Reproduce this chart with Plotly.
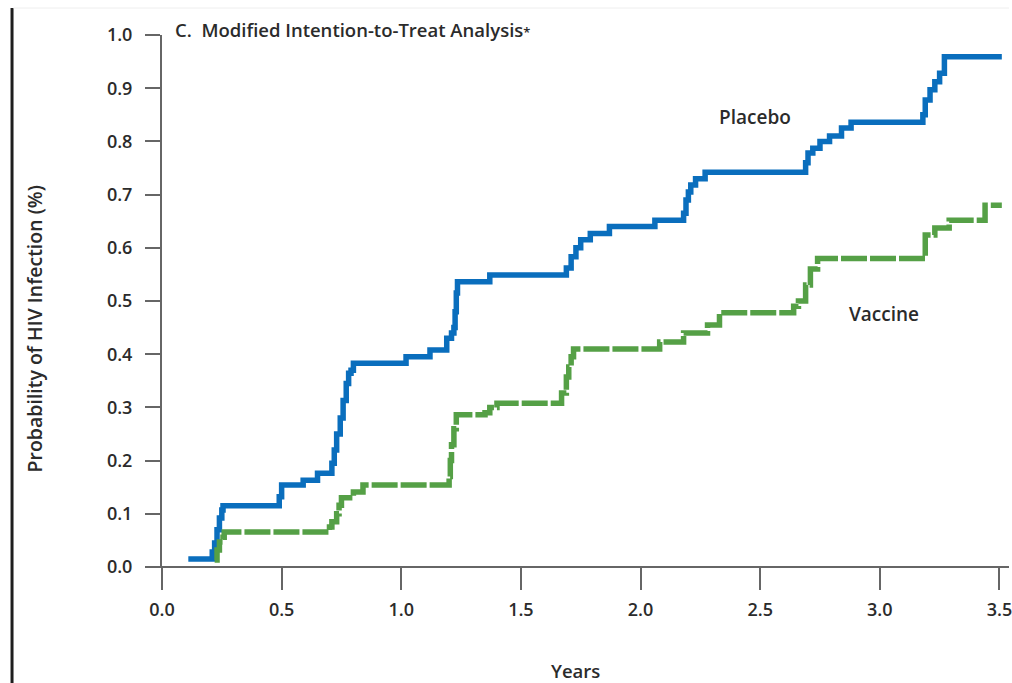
import plotly.graph_objects as go

# Kaplan-Meier style step data (time in years, cumulative probability)
placebo_t = [0.11, 0.21, 0.22, 0.23, 0.24, 0.25, 0.255, 0.49, 0.50, 0.59, 0.65, 0.71, 0.72, 0.73,
             0.745, 0.757, 0.77, 0.78, 0.79, 0.80, 1.02, 1.12, 1.19, 1.21, 1.22, 1.225, 1.23, 1.235,
             1.37, 1.69, 1.71, 1.73, 1.75, 1.79, 1.87, 2.06, 2.18, 2.19, 2.20, 2.21, 2.23, 2.27,
             2.69, 2.70, 2.72, 2.75, 2.79, 2.84, 2.88, 3.18, 3.19, 3.21, 3.23, 3.25, 3.27, 3.51]
placebo_v = [0.015, 0.028, 0.045, 0.07, 0.092, 0.107, 0.115, 0.132, 0.154, 0.163, 0.176, 0.195, 0.22, 0.25,
             0.28, 0.313, 0.345, 0.364, 0.37, 0.383, 0.395, 0.408, 0.43, 0.44, 0.45, 0.48, 0.515, 0.536,
             0.549, 0.562, 0.583, 0.60, 0.615, 0.627, 0.64, 0.652, 0.665, 0.69, 0.705, 0.718, 0.73, 0.742,
             0.76, 0.778, 0.787, 0.80, 0.81, 0.825, 0.836, 0.85, 0.878, 0.897, 0.912, 0.928, 0.959, 0.959]

vaccine_t = [0.22, 0.23, 0.24, 0.255, 0.26, 0.70, 0.71, 0.73, 0.74, 0.75, 0.80, 0.84, 1.20, 1.205,
             1.21, 1.22, 1.23, 1.35, 1.37, 1.40, 1.67, 1.69, 1.70, 1.71, 1.72, 2.08, 2.18, 2.28,
             2.33, 2.64, 2.66, 2.69, 2.71, 2.74, 3.19, 3.23, 3.29, 3.44, 3.51]
vaccine_v = [0.013, 0.032, 0.047, 0.056, 0.066, 0.075, 0.085, 0.10, 0.116, 0.13, 0.141, 0.154, 0.17, 0.20,
             0.23, 0.26, 0.286, 0.29, 0.30, 0.308, 0.327, 0.357, 0.376, 0.395, 0.41, 0.423, 0.44, 0.455,
             0.478, 0.49, 0.50, 0.53, 0.56, 0.58, 0.624, 0.637, 0.652, 0.68, 0.68]

x_ticks = [0.0, 0.5, 1.0, 1.5, 2.0, 2.5, 3.0, 3.5]
y_ticks = [0.0, 0.1, 0.2, 0.3, 0.4, 0.5, 0.6, 0.7, 0.8, 0.9, 1.0]

FONT = "Open Sans"
TXT = "#2b2b2b"
AX = "#666666"
W = 600

fig = go.Figure()
fig.add_trace(go.Scatter(x=placebo_t, y=placebo_v, mode="lines", line_shape="hv",
                         line=dict(color="#0a6ebd", width=5.5), name="Placebo"))
fig.add_trace(go.Scatter(x=vaccine_t, y=vaccine_v, mode="lines", line_shape="hv",
                         line=dict(color="#55a046", width=5.5, dash="26px,3px"), name="Vaccine"))

fig.update_layout(
    width=1012, height=683,
    margin=dict(l=162, r=0, t=35, b=116),
    paper_bgcolor="white", plot_bgcolor="white",
    showlegend=False,
    font=dict(family=FONT, color=TXT, size=16),
    xaxis=dict(range=[0, 3.54], tickvals=x_ticks, tickformat=".1f", showgrid=False, zeroline=False,
               showline=False, ticks="outside", ticklen=22, tickwidth=2, tickcolor=AX,
               ticklabeloverflow="allow", ticklabelstandoff=4,
               tickfont=dict(family=FONT, size=18, color=TXT, weight=W)),
    yaxis=dict(range=[0, 1.0], tickvals=y_ticks, tickformat=".1f", showgrid=False, zeroline=False,
               showline=True, linecolor=AX, linewidth=2, ticks="outside", ticklen=15, tickwidth=2,
               tickcolor=AX, ticklabelstandoff=9,
               tickfont=dict(family=FONT, size=18, color=TXT, weight=W)),
)

# x-axis baseline extending slightly left of the y-axis
fig.add_shape(type="line", xref="paper", yref="paper", x0=-15/850, x1=1, y0=0, y1=0,
              line=dict(color=AX, width=2))
# left dark border and faint top border
fig.add_shape(type="line", xref="paper", yref="paper", x0=(11.5-162)/850, x1=(11.5-162)/850,
              y0=(567-683)/532, y1=(567-8)/532, line=dict(color="#1e1e1e", width=3))
fig.add_shape(type="line", xref="paper", yref="paper", x0=(13-162)/850, x1=1,
              y0=(567-8)/532, y1=(567-8)/532, line=dict(color="#eeeeee", width=1))

fig.add_annotation(xref="paper", yref="paper", x=(173-162)/850, y=(567-30)/532, xanchor="left",
                   yanchor="middle", showarrow=False,
                   text="C.  Modified Intention-to-Treat Analysis<span style='font-size:13px'>*</span>",
                   font=dict(family=FONT, size=18.5, color=TXT, weight=W))
fig.add_annotation(xref="paper", yref="paper", x=(35-162)/850, y=(567-329)/532, textangle=-90,
                   xanchor="center", yanchor="middle",
                   showarrow=False, text="Probability of HIV Infection (%)",
                   font=dict(family=FONT, size=19.5, color=TXT, weight=W))
fig.add_annotation(xref="paper", yref="paper", x=(577-162)/850, y=(567-670)/532, showarrow=False,
                   xanchor="center", yanchor="middle",
                   text="Years", font=dict(family=FONT, size=18.5, color=TXT, weight=W))
fig.add_annotation(x=2.477, y=0.846, showarrow=False, text="Placebo",
                   font=dict(family=FONT, size=19, color=TXT, weight=W))
fig.add_annotation(x=3.018, y=0.476, showarrow=False, text="Vaccine",
                   font=dict(family=FONT, size=19, color=TXT, weight=W))

fig.write_html("out.html")
